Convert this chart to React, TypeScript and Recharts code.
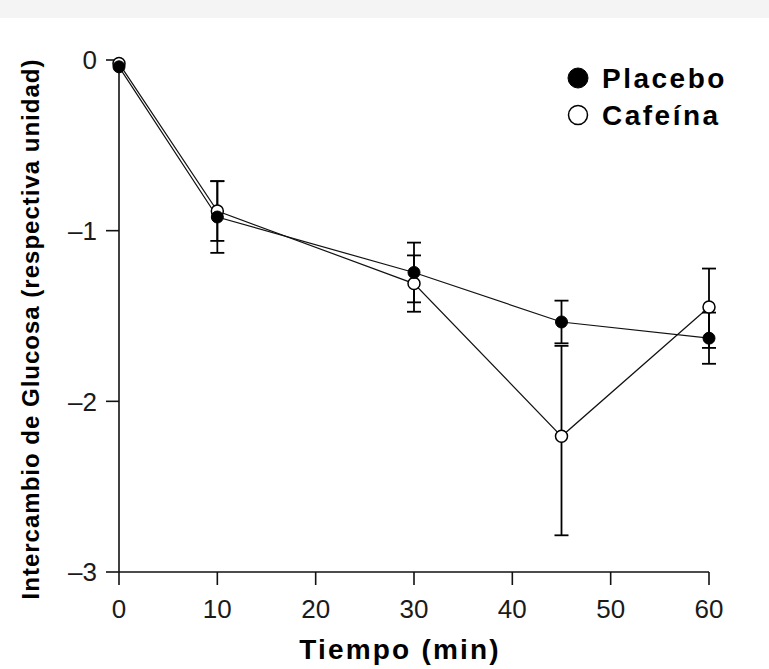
import React from "react";
import {
  ErrorBar,
  Legend,
  Label,
  Line,
  LineChart,
  XAxis,
  YAxis,
} from "recharts";

// minutes after ingestion
const times = [0, 10, 30, 45, 60];

const placeboMeans = [-0.04, -0.92, -1.245, -1.535, -1.63];
const placeboErrs = [null, 0.21, 0.175, 0.125, 0.15];

const cafeinaMeans = [-0.02, -0.885, -1.31, -2.205, -1.447];
const cafeinaErrDown = [null, 0.175, 0.165, 0.58, 0.24];
const cafeinaErrUp = [null, 0.175, 0.165, 0.53, 0.225];

const xTicks = [0, 10, 20, 30, 40, 50, 60];
const yTicks = [-3, -2, -1, 0];

const seriesNames = ["Placebo", "Cafeína"];

const data = times.map((t, i) => ({
  t,
  placebo: placeboMeans[i],
  placeboErr: placeboErrs[i],
  cafeina: cafeinaMeans[i],
  cafeinaErr:
    cafeinaErrDown[i] == null ? null : [cafeinaErrDown[i], cafeinaErrUp[i]],
}));

const FONT = "'Liberation Sans', Arial, Helvetica, sans-serif";
const INK = "#111";

const tickStyle = { fontSize: 26, fill: "#1a1a1a", fontFamily: FONT };

function LegendBox() {
  return (
    <svg width={200} height={80}>
      <circle cx={18} cy={23} r={10} fill="#000" stroke="#000" />
      <text
        x={42}
        y={33}
        fontFamily={FONT}
        fontWeight="bold"
        fontSize={28}
        letterSpacing={2.5}
        fill="#000"
      >
        {seriesNames[0]}
      </text>
      <circle cx={18} cy={60} r={9.5} fill="#fff" stroke="#000" strokeWidth={1.5} />
      <text
        x={42}
        y={70}
        fontFamily={FONT}
        fontWeight="bold"
        fontSize={28}
        letterSpacing={2.5}
        fill="#000"
      >
        {seriesNames[1]}
      </text>
    </svg>
  );
}

export default function App() {
  return (
    <div
      style={{
        position: "absolute",
        left: 0,
        top: 0,
        width: 769,
        height: 669,
        background: "#fff",
      }}
    >
      <div
        style={{
          position: "absolute",
          left: 0,
          top: 0,
          width: 769,
          height: 18,
          background: "#f4f4f4",
        }}
      />
      <LineChart
        width={769}
        height={669}
        data={data}
        margin={{ top: 60, right: 60, bottom: 0, left: 0 }}
      >
        <XAxis
          dataKey="t"
          type="number"
          domain={[0, 60]}
          ticks={xTicks}
          tickSize={13}
          tickMargin={15}
          tick={tickStyle}
          axisLine={{ stroke: INK, strokeWidth: 1.6 }}
          tickLine={{ stroke: INK, strokeWidth: 1.6 }}
          height={97}
        >
          <Label
            content={({ viewBox }: any) => (
              <text
                x={viewBox.x + viewBox.width / 2 - 14}
                y={659}
                textAnchor="middle"
                fontFamily={FONT}
                fontWeight="bold"
                fontSize={28}
                letterSpacing={2.2}
                fill="#000"
              >
                Tiempo (min)
              </text>
            )}
          />
        </XAxis>
        <YAxis
          type="number"
          domain={[-3, 0]}
          ticks={yTicks}
          width={119}
          tickSize={13}
          tickMargin={9}
          tick={tickStyle}
          tickFormatter={(v: number) => (v < 0 ? `–${Math.abs(v)}` : `${v}`)}
          axisLine={{ stroke: INK, strokeWidth: 1.6 }}
          tickLine={{ stroke: INK, strokeWidth: 1.6 }}
        >
          <Label
            content={() => (
              <text
                x={39}
                y={329}
                transform="rotate(-90, 39, 329)"
                textAnchor="middle"
                fontFamily={FONT}
                fontWeight="bold"
                fontSize={24}
                letterSpacing={1}
                fill="#000"
              >
                Intercambio de Glucosa (respectiva unidad)
              </text>
            )}
          />
        </YAxis>
        <Legend
          layout="horizontal"
          verticalAlign="middle"
          align="center"
          content={() => <LegendBox />}
          wrapperStyle={{ left: 560, top: 55, width: 200, height: 80 }}
        />
        <Line
          type="linear"
          dataKey="cafeina"
          stroke={INK}
          strokeWidth={1.2}
          dot={{ r: 6, fill: "#fff", stroke: "#000", strokeWidth: 1.5 }}
          isAnimationActive={false}
        >
          <ErrorBar
            dataKey="cafeinaErr"
            direction="y"
            width={7}
            stroke="#000"
            strokeWidth={1.8}
          />
        </Line>
        <Line
          type="linear"
          dataKey="placebo"
          stroke={INK}
          strokeWidth={1.2}
          dot={{ r: 6, fill: "#000", stroke: "#000", strokeWidth: 1 }}
          isAnimationActive={false}
        >
          <ErrorBar
            dataKey="placeboErr"
            direction="y"
            width={7}
            stroke="#000"
            strokeWidth={1.8}
          />
        </Line>
      </LineChart>
    </div>
  );
}
